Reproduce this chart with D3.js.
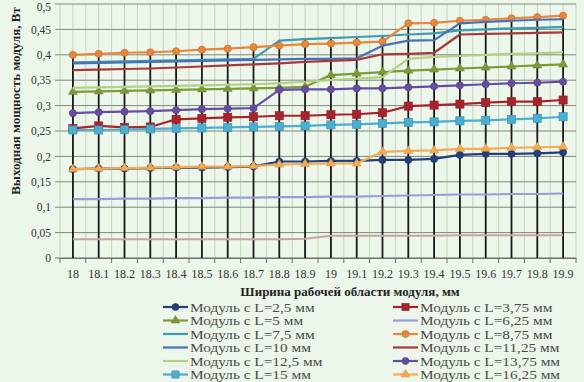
<!DOCTYPE html>
<html><head><meta charset="utf-8">
<script src="https://cdn.jsdelivr.net/npm/d3@7"></script>
<style>
html,body{margin:0;padding:0;background:#edf6ea;}
svg{display:block;}
text{font-family:"Liberation Serif","Times New Roman",serif;}
</style></head>
<body>
<svg id="chart" width="584" height="382"></svg>
<script>
const categories = ["18","18.1","18.2","18.3","18.4","18.5","18.6","18.7","18.8","18.9","19","19.1","19.2","19.3","19.4","19.5","19.6","19.7","19.8","19.9"];
const yTicks = [0,0.05,0.1,0.15,0.2,0.25,0.3,0.35,0.4,0.45,0.5];
const yTickLabels = ["0","0,05","0,1","0,15","0,2","0,25","0,3","0,35","0,4","0,45","0,5"];
const seriesNames = ["Модуль с L=2,5 мм","Модуль с L=3,75 мм","Модуль с L=5 мм","Модуль с L=6,25 мм","Модуль с L=7,5 мм","Модуль с L=8,75 мм","Модуль с L=10 мм","Модуль с L=11,25 мм","Модуль с L=12,5 мм","Модуль с L=13,75 мм","Модуль с L=15 мм","Модуль с L=16,25 мм"];
const s2_5   = [0.175,0.176,0.176,0.177,0.178,0.178,0.179,0.180,0.190,0.190,0.191,0.191,0.193,0.193,0.195,0.203,0.205,0.205,0.206,0.208];
const s3_75  = [0.255,0.260,0.257,0.258,0.273,0.275,0.277,0.278,0.280,0.280,0.282,0.283,0.286,0.299,0.301,0.303,0.306,0.308,0.308,0.311];
const s5     = [0.327,0.328,0.329,0.330,0.331,0.332,0.333,0.334,0.335,0.337,0.360,0.363,0.366,0.369,0.371,0.373,0.375,0.377,0.379,0.381];
const s6_25  = [0.116,0.116,0.117,0.117,0.118,0.118,0.119,0.119,0.120,0.120,0.121,0.121,0.122,0.123,0.124,0.125,0.125,0.126,0.126,0.127];
const s7_5   = [0.385,0.386,0.387,0.388,0.389,0.390,0.391,0.392,0.428,0.431,0.433,0.435,0.437,0.440,0.442,0.448,0.450,0.452,0.453,0.455];
const s8_75  = [0.400,0.402,0.404,0.405,0.407,0.410,0.412,0.415,0.418,0.421,0.422,0.424,0.426,0.462,0.463,0.467,0.469,0.472,0.474,0.477];
const s10    = [0.383,0.384,0.385,0.386,0.387,0.388,0.389,0.390,0.391,0.392,0.392,0.393,0.418,0.428,0.429,0.462,0.465,0.467,0.469,0.470];
const s11_25 = [0.370,0.371,0.372,0.373,0.375,0.377,0.379,0.381,0.383,0.386,0.388,0.390,0.401,0.402,0.404,0.440,0.441,0.442,0.443,0.444];
const s12_5  = [0.335,0.336,0.337,0.338,0.339,0.340,0.341,0.342,0.344,0.347,0.350,0.353,0.356,0.392,0.396,0.398,0.400,0.402,0.403,0.405];
const s13_75 = [0.285,0.287,0.288,0.289,0.291,0.293,0.294,0.295,0.331,0.332,0.332,0.334,0.334,0.336,0.338,0.340,0.342,0.344,0.345,0.347];
const s15    = [0.252,0.252,0.253,0.254,0.255,0.256,0.257,0.258,0.259,0.260,0.262,0.263,0.265,0.267,0.268,0.270,0.271,0.273,0.275,0.278];
const s16_25 = [0.175,0.176,0.177,0.178,0.179,0.180,0.180,0.181,0.184,0.185,0.186,0.186,0.209,0.211,0.212,0.215,0.215,0.217,0.218,0.219];
const extraLine = [0.037,0.037,0.037,0.037,0.037,0.037,0.037,0.037,0.037,0.038,0.044,0.044,0.044,0.044,0.044,0.045,0.045,0.045,0.045,0.045];
const seriesValues = [s2_5,s3_75,s5,s6_25,s7_5,s8_75,s10,s11_25,s12_5,s13_75,s15,s16_25];

const colors  = ["#23407a","#a8242c","#7c9a38","#9a9cd4","#3e9bb2","#e8863c","#4a70b6","#a33b3b","#b3d085","#654ea0","#4aaed0","#f4ab52"];
const markers = ["circle","square","triangle","none","none","circle","none","none","none","circle","square","triangle"];

const svg = d3.select("#chart");
const W = 584, H = 382;
const m = {l:60, r:8, t:4, b:124};
const x = d3.scaleBand().domain(categories).range([m.l, W - m.r]);
const cx = c => x(c) + x.bandwidth()/2;
const y = d3.scaleLinear().domain([0,0.5]).range([H - m.b, m.t]);

svg.append("rect").attr("width",W).attr("height",H).attr("fill","#edf6ea");

// light vertical gridlines (category boundaries and centers)
const g = svg.append("g");
const vpos = [];
categories.forEach(c => { vpos.push(x(c)); vpos.push(cx(c)); });
vpos.push(W - m.r);
g.selectAll("line.v").data(vpos).join("line")
  .attr("x1",d=>d).attr("x2",d=>d).attr("y1",y(0.5)).attr("y2",y(0))
  .attr("stroke","#c6d3c3").attr("stroke-width",1);

// horizontal gridlines
g.selectAll("line.h").data(yTicks).join("line")
  .attr("x1",m.l-5).attr("x2",W - m.r).attr("y1",d=>y(d)).attr("y2",d=>y(d))
  .attr("stroke",(d)=> d===0 ? "#6f6f6f" : "#7f867d").attr("stroke-width",1);

// x axis
const xAxis = d3.axisBottom(x).tickSize(0).tickPadding(11);
const xa = svg.append("g").attr("transform",`translate(0,${y(0)})`).call(xAxis);
xa.select(".domain").attr("stroke","#6f6f6f");
xa.selectAll("text").attr("font-size","12px").attr("fill","#333");
svg.append("g").selectAll("line").data(categories.map(c=>x(c)).concat([W-m.r])).join("line")
  .attr("x1",d=>d).attr("x2",d=>d).attr("y1",y(0)).attr("y2",y(0)+5)
  .attr("stroke","#6f6f6f");

// y axis labels
const yAxis = d3.axisLeft(y).tickValues(yTicks).tickFormat((d,i)=>yTickLabels[i]).tickSize(0).tickPadding(9);
const ya = svg.append("g").attr("transform",`translate(${m.l},0)`).call(yAxis);
ya.select(".domain").remove();
ya.selectAll("text").attr("font-size","11.5px").attr("fill","#333")
  .attr("dy",(d)=> d===0.5 ? "0.6em" : "0.32em");

// drop lines: from highest point to axis
const maxes = categories.map((c,i)=> d3.max(seriesValues.concat([extraLine]), s=>s[i]));
svg.append("g").selectAll("line").data(categories).join("line")
  .attr("x1",c=>cx(c)).attr("x2",c=>cx(c))
  .attr("y1",(c,i)=>y(maxes[i])).attr("y2",y(0))
  .attr("stroke","#1a1a1a").attr("stroke-width",1.8);

const line = d3.line().x((d,i)=>cx(categories[i])).y(d=>y(d));

// extra unlabeled line
svg.append("path").attr("d",line(extraLine)).attr("fill","none")
  .attr("stroke","#c9a2a2").attr("stroke-width",2);

function drawMarker(sel, type, color, size){
  if(type==="circle"){
    sel.append("circle").attr("r",size*0.58).attr("fill",color).attr("stroke",d3.color(color).darker(0.6)).attr("stroke-width",0.6);
  } else if(type==="square"){
    sel.append("rect").attr("x",-size*0.6).attr("y",-size*0.6).attr("width",size*1.2).attr("height",size*1.2)
      .attr("fill",color).attr("stroke",d3.color(color).darker(0.6)).attr("stroke-width",0.6);
  } else if(type==="triangle"){
    sel.append("path").attr("d",d3.symbol(d3.symbolTriangle, size*size*0.9)()).attr("fill",color)
      .attr("stroke",d3.color(color).darker(0.5)).attr("stroke-width",0.5);
  }
}

seriesValues.forEach((vals,k)=>{
  const sg = svg.append("g");
  sg.append("path").attr("d",line(vals)).attr("fill","none")
    .attr("stroke",colors[k]).attr("stroke-width",2.2).attr("stroke-linejoin","round");
  if(markers[k]!=="none"){
    const pts = sg.selectAll("g.pt").data(vals).join("g")
      .attr("transform",(d,i)=>`translate(${cx(categories[i])},${y(d)})`);
    drawMarker(pts, markers[k], colors[k], markers[k]==="square"?6.8:6.2);
  }
});

// axis titles
svg.append("text").attr("transform","translate(20,101) rotate(-90)")
  .attr("text-anchor","middle").attr("font-size","13px").attr("font-weight","bold").attr("fill","#222")
  .text("Выходная мощность модуля, Вт");
svg.append("text").attr("x",350).attr("y",296).attr("text-anchor","middle")
  .attr("font-size","13px").attr("font-weight","bold").attr("fill","#222")
  .text("Ширина рабочей области модуля, мм");

// legend
const lg = svg.append("g");
seriesNames.forEach((name,k)=>{
  const col = k%2, row = Math.floor(k/2);
  const lx = col===0 ? 163 : 393;
  const ly = 307 + row*13.5;
  const item = lg.append("g").attr("transform",`translate(${lx},${ly})`);
  item.append("line").attr("x1",0).attr("x2",25).attr("y1",0).attr("y2",0)
    .attr("stroke",colors[k]).attr("stroke-width",2.2);
  if(markers[k]!=="none"){
    const mk = item.append("g").attr("transform","translate(12.5,0)");
    drawMarker(mk, markers[k], colors[k], 6);
  }
  item.append("text").attr("transform","translate(27,4.5) scale(1.18,1)")
    .attr("font-size","13px").attr("fill","#4a4a4a").text(name);
});
</script>
</body></html>
